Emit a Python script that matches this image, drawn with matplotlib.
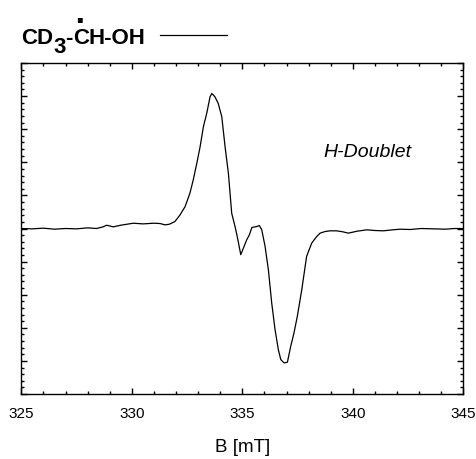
import matplotlib
matplotlib.use("Agg")
import matplotlib.pyplot as plt
from matplotlib.lines import Line2D
from matplotlib.ticker import MultipleLocator, NullFormatter

plt.rcParams["font.family"] = ["Liberation Sans", "DejaVu Sans"]

# ── spectrum (B in mT, signal in arb. units) ─────────────────────────────────
field = [325.0, 325.5, 326.0, 326.5, 327.0, 327.5, 328.0, 328.4, 328.7, 328.86,
         329.16, 329.5, 330.07, 330.5, 331.0, 331.28, 331.5, 331.7, 331.95, 332.18,
         332.41, 332.63, 332.78, 332.94, 333.09, 333.24, 333.39, 333.54, 333.62,
         333.76, 333.91, 334.07, 334.22, 334.37, 334.52, 334.67, 334.77, 334.93,
         335.05, 335.2, 335.32, 335.43, 335.65, 335.77, 335.88, 336.03, 336.18,
         336.33, 336.48, 336.63, 336.74, 336.89, 337.04, 337.19, 337.34, 337.49,
         337.69, 337.91, 338.14, 338.37, 338.52, 338.75, 338.97, 339.27, 339.55,
         339.8, 340.2, 340.63, 341.0, 341.38, 341.8, 342.14, 342.6, 343.1, 343.64,
         344.2, 344.6, 345.0]
signal = [0.0, -0.01, 0.01, -0.02, 0.0, -0.01, 0.02, 0.0, 0.05, 0.10,
          0.05, 0.10, 0.16, 0.14, 0.16, 0.15, 0.11, 0.13, 0.21, 0.41,
          0.66, 1.07, 1.47, 1.97, 2.47, 3.08, 3.48, 3.98, 4.08,
          3.98, 3.78, 3.38, 2.47, 1.67, 0.46, 0.06, -0.24, -0.79,
          -0.59, -0.34, -0.19, 0.03, 0.06, 0.09, -0.04, -0.54, -1.25,
          -2.25, -3.05, -3.66, -3.96, -4.06, -4.04, -3.56, -3.15, -2.65,
          -1.85, -0.84, -0.44, -0.24, -0.14, -0.09, -0.07, -0.07, -0.10,
          -0.14, -0.08, -0.04, -0.06, -0.07, -0.04, -0.02, -0.03, 0.0, -0.01,
          -0.02, 0.0, 0.0]

x_ticks = [325, 330, 335, 340, 345]

fig = plt.figure(figsize=(4.77, 4.59), dpi=100)
ax = fig.add_axes([0.0447, 0.1416, 0.9266, 0.7211])

ax.plot(field, signal, color="black", linewidth=0.9)

ax.set_xlim(325, 345)
ax.set_ylim(-5, 5)
ax.set_xticks(x_ticks)
ax.xaxis.set_minor_locator(MultipleLocator(1))
ax.yaxis.set_major_locator(MultipleLocator(1))
ax.yaxis.set_minor_locator(MultipleLocator(0.2))
ax.yaxis.set_major_formatter(NullFormatter())
ax.tick_params(which="both", direction="in", top=True, right=True,
               labelsize=11, pad=9, width=1)
ax.tick_params(which="major", length=4)
ax.tick_params(which="minor", length=2.5)
for sp in ax.spines.values():
    sp.set_linewidth(1)

ax.set_xlabel("B [mT]", fontsize=13.5, labelpad=13)
ax.text(338.65, 2.17, "H-Doublet", fontsize=14, style="italic",
        va="baseline", ha="left")

# ── title: CD3-ĊH-OH followed by a legend line ───────────────────────────────
fs = 16
t1 = fig.text(21 / 477, 1 - 44.5 / 459, "CD", fontsize=fs, weight="bold",
              va="baseline")
t3 = ax.annotate("3", xy=(1, 0), xycoords=t1, xytext=(0, -6),
                 textcoords="offset points", fontsize=fs, weight="bold",
                 va="bottom", ha="left", annotation_clip=False)
t4 = ax.annotate("-", xy=(1, 0), xycoords=(t3, t1), fontsize=fs,
                 weight="bold", va="bottom", ha="left", annotation_clip=False)
t5 = ax.annotate("C", xy=(1, 0), xycoords=(t4, t1), fontsize=fs,
                 weight="bold", va="bottom", ha="left", annotation_clip=False)
ax.annotate("\u25aa", xy=(0.4, 1), xycoords=t5, xytext=(0, 3),
            textcoords="offset points", fontsize=7, va="bottom", ha="center",
            family="DejaVu Sans", annotation_clip=False)
ax.annotate("H-OH", xy=(1, 0), xycoords=(t5, t1), fontsize=fs,
            weight="bold", va="bottom", ha="left", annotation_clip=False)
fig.add_artist(Line2D([160 / 477, 227 / 477], [1 - 35 / 459, 1 - 35 / 459],
                      color="black", linewidth=0.9,
                      transform=fig.transFigure))

fig.savefig("out.png", dpi=100)
